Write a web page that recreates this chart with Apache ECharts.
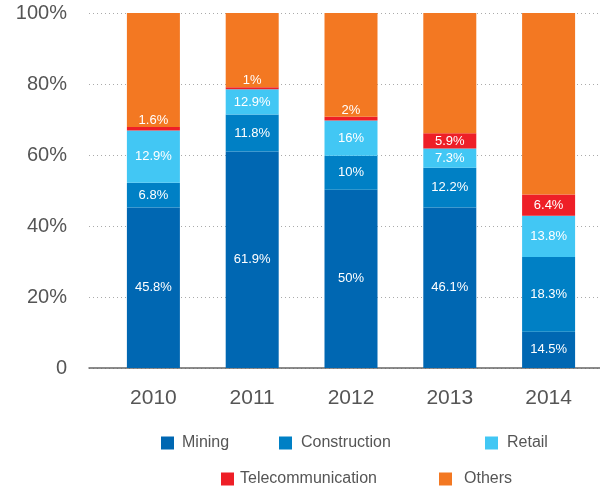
<!DOCTYPE html>
<html>
<head>
<meta charset="utf-8">
<script src="https://cdn.jsdelivr.net/npm/echarts@6/dist/echarts.min.js"></script>
<style>
  html, body { margin: 0; padding: 0; background: #fff; }
  #chart { width: 600px; height: 491px; }
</style>
</head>
<body>
<div id="chart"></div>
<script>
// categories
var years = ['2010', '2011', '2012', '2013', '2014']
// segment heights as drawn (percent)
var mining = [45.2, 61.0, 50.2, 45.2, 10.2]
var construction = [7.0, 10.4, 9.6, 11.2, 21.1]
var retail = [14.7, 7.1, 9.9, 5.4, 11.6]
var telecom = [1.0, 0.6, 1.1, 4.3, 6.0]
var others = [32.1, 20.9, 29.2, 33.9, 51.1]
// printed labels
var miningLabels = ['45.8%', '61.9%', '50%', '46.1%', '14.5%']
var constructionLabels = ['6.8%', '11.8%', '10%', '12.2%', '18.3%']
var retailLabels = ['12.9%', '12.9%', '16%', '7.3%', '13.8%']
var telecomLabels = ['1.6%', '1%', '2%', '5.9%', '6.4%']
var yTicks = [0, 20, 40, 60, 80, 100]

var font = 'Liberation Sans, Arial, Helvetica, sans-serif'
var chart = echarts.init(document.getElementById('chart'))

function makeData(values, labels) {
  var out = []
  for (var i = 0; i < values.length; i++) {
    var item = { value: values[i] }
    if (labels) {
      item.label = {
        show: true,
        formatter: labels[i],
        position: values[i] < 3 ? 'top' : 'inside',
        distance: 0
      }
    } else {
      item.label = { show: false }
    }
    out.push(item)
  }
  return out
}

function bar(name, color, values, labels) {
  return {
    name: name,
    type: 'bar',
    stack: 'total',
    xAxisIndex: 1,
    yAxisIndex: 1,
    barWidth: 53,
    data: makeData(values, labels),
    itemStyle: { color: color },
    label: { color: '#fff', fontSize: 13, fontFamily: font }
  }
}

function legendItem(name, left, top, gap) {
  return {
    data: [name],
    left: left,
    top: top,
    padding: 0,
    icon: 'rect',
    itemWidth: 13,
    itemHeight: 13,
    selectedMode: false,
    textStyle: { color: '#555', fontSize: 16, fontFamily: font, padding: [0, 0, 0, gap] }
  }
}

chart.setOption({
  animation: false,
  backgroundColor: '#fff',
  grid: [
    { left: 89, right: 0, top: 13, bottom: 123 },
    { left: 104, right: 2, top: 13, bottom: 123 }
  ],
  legend: [
    legendItem('Mining', 161, 435, 3),
    legendItem('Construction', 279, 435, 4),
    legendItem('Retail', 485, 435, 4),
    legendItem('Telecommunication', 221, 471, 1),
    legendItem('Others', 439, 471, 7)
  ],
  xAxis: [{
    gridIndex: 0,
    type: 'value',
    min: 0,
    max: 1,
    axisLine: { show: true, lineStyle: { color: '#666', width: 1.5 } },
    axisTick: { show: false },
    axisLabel: { show: false },
    splitLine: { show: false }
  }, {
    gridIndex: 1,
    type: 'category',
    data: years,
    axisLine: { show: false },
    axisTick: { show: false },
    axisLabel: { color: '#555', fontSize: 21, fontFamily: font, margin: 20 }
  }],
  yAxis: [{
    gridIndex: 0,
    type: 'value',
    min: yTicks[0],
    max: yTicks[yTicks.length - 1],
    interval: 20,
    axisLine: { show: false },
    axisTick: { show: false },
    axisLabel: {
      color: '#555',
      fontSize: 20,
      fontFamily: font,
      margin: 22,
      formatter: function(v) { return v === 0 ? '0' : v + '%' }
    },
    splitLine: { show: true, lineStyle: { color: '#aaa', type: [1, 3], width: 1 } }
  }, {
    gridIndex: 1,
    type: 'value',
    min: 0,
    max: 100,
    show: false
  }],
  series: [
    bar('Mining', '#0067b2', mining, miningLabels),
    bar('Construction', '#0080c5', construction, constructionLabels),
    bar('Retail', '#42c7f4', retail, retailLabels),
    bar('Telecommunication', '#ee1f27', telecom, telecomLabels),
    bar('Others', '#f37822', others, null)
  ]
})
</script>
</body>
</html>
